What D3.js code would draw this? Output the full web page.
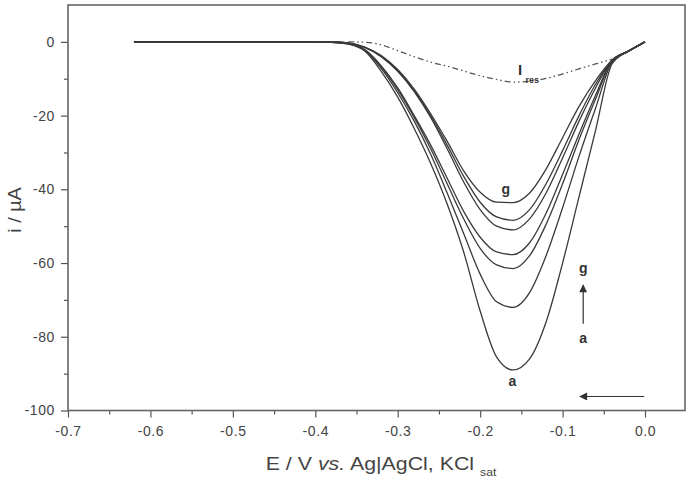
<!DOCTYPE html>
<html>
<head>
<meta charset="utf-8">
<script src="https://d3js.org/d3.v7.min.js"></script>
<style>
  body { margin: 0; background: #fff; }
  svg { font-family: "Liberation Sans", Arial, sans-serif; }
</style>
</head>
<body>
<svg width="686" height="477"></svg>
<script>
// potentials (V) shared by all voltammograms
const potentials = [-0.62, -0.5, -0.4, -0.38, -0.36, -0.34, -0.32, -0.30, -0.28, -0.26, -0.24, -0.22,
                    -0.20, -0.18, -0.16, -0.14, -0.12, -0.10, -0.08, -0.06, -0.04, -0.02, 0.0]

const curveA = [0, 0, 0, -0.1, -0.6, -2.5, -8, -15, -23.5, -33, -44, -57, -73, -85.5, -89, -86, -76, -60, -42, -24, -6, -2.5, 0]
const curveB = [0, 0, 0, -0.1, -0.5, -2.3, -7.2, -13.8, -21.5, -30.5, -41, -52, -63, -70.5, -72, -68, -58, -45, -31, -18, -5.5, -2.5, 0]
const curveC = [0, 0, 0, -0.1, -0.5, -2.2, -6.8, -13, -20.5, -29, -38.5, -48, -56, -60.5, -61.5, -58, -49.5, -38.5, -26.5, -15.5, -5.2, -2.5, 0]
const curveD = [0, 0, 0, -0.1, -0.5, -2.1, -6.5, -12.5, -20, -28, -37, -46, -53, -57, -57.7, -54.5, -46.5, -36, -25, -14.5, -5.1, -2.5, 0]
const curveE = [0, 0, 0, 0, -0.3, -1.5, -4, -8, -13.5, -20.5, -29, -38, -45.5, -50, -51, -48, -41, -31.5, -21.5, -12.5, -5, -2.5, 0]
const curveF = [0, 0, 0, 0, -0.3, -1.5, -3.9, -7.8, -13.2, -20, -28, -36.5, -43.5, -47.5, -48.4, -45.5, -38.5, -29.5, -20, -11.5, -5, -2.5, 0]
const curveG = [0, 0, 0, 0, -0.3, -1.4, -3.7, -7.5, -12.8, -19.5, -27, -35, -40.8, -43.5, -43.6, -41, -34.5, -26, -17.5, -10.5, -5, -2.5, 0]

// residual current (dash-dot line)
const resPotentials = [-0.36, -0.34, -0.32, -0.30, -0.28, -0.26, -0.24, -0.22, -0.20, -0.18, -0.16,
                       -0.14, -0.12, -0.10, -0.08, -0.06, -0.04]
const resCurrent = [0, -0.1, -0.8, -2.4, -4, -5.5, -6.6, -7.9, -9.2, -10.2, -10.9, -10.7, -9.9, -8.7, -7.3, -6, -4.7]

const xTicks = [-0.7, -0.6, -0.5, -0.4, -0.3, -0.2, -0.1, 0.0]
const xTickLabels = ["-0.7", "-0.6", "-0.5", "-0.4", "-0.3", "-0.2", "-0.1", "0.0"]
const xMinorTicks = [-0.65, -0.55, -0.45, -0.35, -0.25, -0.15, -0.05]
const yTicks = [0, -20, -40, -60, -80, -100]
const yTickLabels = ["0", "-20", "-40", "-60", "-80", "-100"]
const yMinorTicks = [-10, -30, -50, -70, -90]

const xScale = d3.scaleLinear().domain([-0.7, 0.0485]).range([68, 685])
const yScale = d3.scaleLinear().domain([-100, 10]).range([410.5, 5])

function addAxes(){
    const svg = d3.select("svg")
    const ink = "#555"

    const xAxis = d3.axisBottom(xScale).tickValues(xTicks).tickSize(7).tickPadding(9)
        .tickFormat((d, i) => xTickLabels[i])
    const yAxis = d3.axisLeft(yScale).tickValues(yTicks).tickSize(7).tickPadding(6)
        .tickFormat((d, i) => yTickLabels[i])

    svg.append("g")
        .attr("id", "xAxisG")
        .attr("transform", "translate(0, 410.5)")
        .call(xAxis)

    svg.append("g")
        .attr("id", "yAxisG")
        .attr("transform", "translate(68, 0)")
        .call(yAxis)

    svg.append("g")
        .attr("transform", "translate(0, 410.5)")
        .call(d3.axisBottom(xScale).tickValues(xMinorTicks).tickSize(4).tickFormat(""))

    svg.append("g")
        .attr("transform", "translate(68, 0)")
        .call(d3.axisLeft(yScale).tickValues(yMinorTicks).tickSize(4).tickFormat(""))

    svg.selectAll("path.domain").style("display", "none")
    svg.selectAll(".tick line").attr("stroke", ink).attr("stroke-width", 1.2)
    svg.selectAll(".tick text")
        .attr("fill", "#444")
        .style("font-size", "14px")
        .style("letter-spacing", "0.6px")
        .style("font-family", "Liberation Sans, Arial, sans-serif")

    // frame
    svg.append("rect")
        .attr("x", xScale(-0.7))
        .attr("y", yScale(10))
        .attr("width", xScale(0.0485) - xScale(-0.7))
        .attr("height", yScale(-100) - yScale(10))
        .attr("fill", "none")
        .attr("stroke", "#666")
        .attr("stroke-width", 1.6)

    svg.append("text")
        .attr("transform", "translate(21, 210) rotate(-90) scale(1.1, 1)")
        .attr("text-anchor", "middle")
        .attr("fill", "#444")
        .style("font-size", "18px")
        .text("i / µA")

    const xl = svg.append("text")
        .attr("transform", "translate(381, 470) scale(1.22, 1)")
        .attr("text-anchor", "middle")
        .attr("fill", "#444")
        .style("font-size", "17.5px")
    xl.append("tspan").text("E / V ")
    xl.append("tspan").style("font-style", "italic").text("vs.")
    xl.append("tspan").text(" Ag|AgCl, KCl ")
    xl.append("tspan").attr("dy", 5.5).style("font-size", "10px").text("sat")
}

function addLines(){
    const svg = d3.select("svg")
    const line = d3.line()
        .x((d, i) => xScale(potentials[i]))
        .y(d => yScale(d))
        .curve(d3.curveMonotoneX)

    const curves = [curveA, curveB, curveC, curveD, curveE, curveF, curveG]
    svg.append("g")
        .selectAll("path")
        .data(curves)
        .enter()
        .append("path")
        .attr("d", d => line(d))
        .attr("fill", "none")
        .attr("stroke", "#3a3a3a")
        .attr("stroke-width", 1.3)

    const resLine = d3.line()
        .x((d, i) => xScale(resPotentials[i]))
        .y(d => yScale(d))
        .curve(d3.curveMonotoneX)

    svg.append("path")
        .attr("d", resLine(resCurrent))
        .attr("fill", "none")
        .attr("stroke", "#555")
        .attr("stroke-width", 1.3)
        .attr("stroke-dasharray", "6 3 1.5 3 1.5 3")
}

function addLabels(){
    const svg = d3.select("svg")

    svg.append("defs").append("marker")
        .attr("id", "head")
        .attr("viewBox", "0 0 10 10")
        .attr("refX", 9)
        .attr("refY", 5)
        .attr("markerWidth", 9)
        .attr("markerHeight", 8)
        .attr("markerUnits", "userSpaceOnUse")
        .attr("orient", "auto")
        .append("path")
        .attr("d", "M0,0 L10,5 L0,10 z")
        .attr("fill", "#333")

    const bold = (x, y, t, size) => svg.append("text")
        .attr("x", x).attr("y", y)
        .attr("text-anchor", "middle")
        .attr("fill", "#333")
        .style("font-weight", "bold")
        .style("font-size", size + "px")
        .text(t)

    bold(xScale(-0.169), yScale(-41.3), "g", 14)
    bold(xScale(-0.161), yScale(-93.3), "a", 14)
    bold(xScale(-0.075), yScale(-62.8), "g", 14)
    bold(xScale(-0.075), yScale(-81.6), "a", 14)

    // I_res label
    svg.append("text")
        .attr("x", 518).attr("y", 75)
        .attr("fill", "#333")
        .style("font-weight", "bold")
        .style("font-size", "15px")
        .text("I")
    svg.append("text")
        .attr("x", 525.5).attr("y", 83)
        .attr("fill", "#333")
        .style("font-weight", "bold")
        .style("font-size", "9px")
        .text("res")

    svg.append("line")
        .attr("x1", xScale(-0.075)).attr("y1", yScale(-76.5))
        .attr("x2", xScale(-0.075)).attr("y2", yScale(-66))
        .attr("stroke", "#333")
        .attr("stroke-width", 1.2)
        .attr("marker-end", "url(#head)")

    svg.append("line")
        .attr("x1", xScale(-0.001)).attr("y1", yScale(-96.2))
        .attr("x2", xScale(-0.079)).attr("y2", yScale(-96.2))
        .attr("stroke", "#333")
        .attr("stroke-width", 1.2)
        .attr("marker-end", "url(#head)")
}

addAxes()
addLines()
addLabels()
</script>
</body>
</html>
